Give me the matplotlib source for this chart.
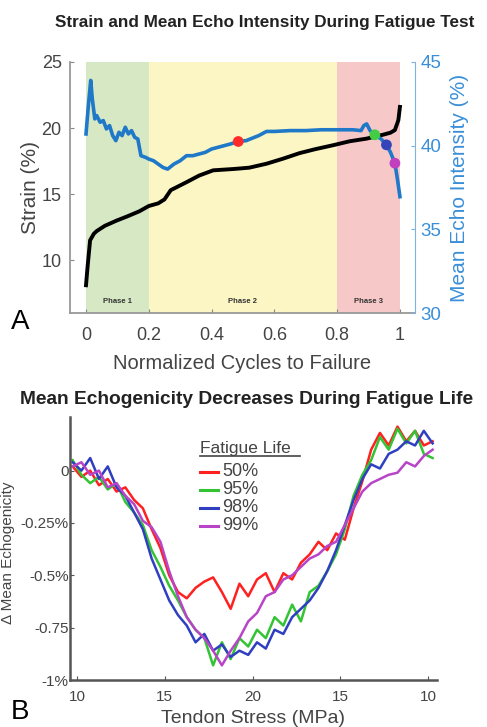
import matplotlib
matplotlib.use("Agg")
import matplotlib.pyplot as plt
from matplotlib.lines import Line2D
import numpy as np

plt.rcParams['font.family'] = ['Liberation Sans', 'DejaVu Sans']

# ---------------- Panel A data ----------------
strain_x = [0, 0.005, 0.013, 0.025, 0.034, 0.06, 0.098, 0.13, 0.17, 0.2, 0.23, 0.25,
            0.27, 0.32, 0.36, 0.405, 0.47, 0.52, 0.575, 0.63, 0.68, 0.73, 0.787,
            0.84, 0.894, 0.947, 0.97, 0.984, 0.995, 1.0]
strain = [8.1, 9.5, 11.5, 12.0, 12.2, 12.6, 13.0, 13.3, 13.7, 14.1, 14.3, 14.6,
          15.3, 15.9, 16.4, 16.8, 16.9, 17.0, 17.3, 17.7, 18.1, 18.4, 18.7,
          19.0, 19.2, 19.5, 19.65, 19.85, 20.6, 21.6]

echo_x = [0, 0.008, 0.015, 0.02, 0.028, 0.034, 0.045, 0.055, 0.065, 0.075, 0.085,
          0.095, 0.105, 0.115, 0.125, 0.135, 0.145, 0.155, 0.165, 0.175, 0.19, 0.2,
          0.215, 0.23, 0.245, 0.26, 0.28, 0.3, 0.32, 0.34, 0.36, 0.38, 0.4, 0.42,
          0.44, 0.46, 0.485, 0.51, 0.53, 0.55, 0.575, 0.6, 0.65, 0.7, 0.75, 0.8,
          0.85, 0.876, 0.885, 0.894, 0.905, 0.92, 0.94, 0.957, 0.97, 0.984, 0.992, 1.0]
echo = [40.7, 42.5, 43.9, 42.8, 41.6, 41.8, 41.4, 41.5, 41.0, 41.2, 40.6,
        40.3, 40.8, 40.6, 41.1, 40.7, 40.9, 40.5, 40.4, 39.4, 39.3, 39.2,
        39.1, 38.9, 38.7, 38.6, 38.9, 39.1, 39.4, 39.4, 39.5, 39.6, 39.8, 39.9,
        40.0, 40.1, 40.25, 40.3, 40.45, 40.6, 40.85, 40.85, 40.9, 40.9, 40.95, 40.95,
        40.95, 40.9, 41.2, 41.3, 40.9, 40.65, 40.4, 40.05, 39.6, 38.95, 38.0, 36.95]

dot_x = [0.485, 0.92, 0.957, 0.984]
dot_echo = [40.25, 40.65, 40.05, 38.95]
dot_colors = ['#ff2a2a', '#44cc44', '#3344bb', '#c040c0']

phases = ['Phase 1', 'Phase 2', 'Phase 3']
phase_bounds = [(0.0, 0.2), (0.2, 0.8), (0.8, 1.0)]
phase_colors = ['#d6e8c4', '#fbf6c4', '#f6c8c8']

# ---------------- Panel B data ----------------
stress_pos = [-0.05, 0.05, 0.15, 0.25, 0.35, 0.45, 0.55, 0.65, 0.75, 0.85, 0.95,
              1.05, 1.15, 1.25, 1.35, 1.45, 1.55, 1.65, 1.75, 1.85, 1.95, 2.05,
              2.15, 2.25, 2.35, 2.45, 2.55, 2.65, 2.75, 2.85, 2.95, 3.05, 3.15,
              3.25, 3.35, 3.45, 3.55, 3.65, 3.75, 3.85, 3.95, 4.05]
stress_ticks = [0, 1, 2, 3, 4]
stress_ticklabels = ['10', '15', '20', '15', '10']

life_labels = ['50%', '95%', '98%', '99%']
life_colors = ['#ff2020', '#33c433', '#2f3fc0', '#b845c8']
echo50 = [0.02, -0.03, 0.00, -0.07, -0.04, -0.10, -0.08, -0.14, -0.18, -0.28, -0.37,
          -0.50, -0.58, -0.61, -0.56, -0.53, -0.51, -0.58, -0.66, -0.54, -0.60, -0.52,
          -0.49, -0.58, -0.49, -0.52, -0.44, -0.40, -0.34, -0.38, -0.30, -0.33, -0.18,
          -0.05, 0.10, 0.18, 0.12, 0.21, 0.14, 0.19, 0.12, 0.14]
echo95 = [0.05, -0.02, -0.06, -0.03, -0.09, -0.06, -0.15, -0.20, -0.26, -0.38, -0.46,
          -0.55, -0.62, -0.70, -0.76, -0.80, -0.93, -0.82, -0.90, -0.80, -0.84, -0.76,
          -0.80, -0.70, -0.74, -0.64, -0.72, -0.58, -0.55, -0.48, -0.40, -0.28, -0.12,
          -0.02, 0.05, 0.16, 0.10, 0.20, 0.13, 0.19, 0.08, 0.06]
echo98 = [0.04, 0.00, 0.06, -0.04, 0.02, -0.08, -0.12, -0.20, -0.28, -0.42, -0.52,
          -0.62, -0.69, -0.74, -0.82, -0.78, -0.86, -0.83, -0.89, -0.86, -0.88, -0.82,
          -0.85, -0.76, -0.78, -0.70, -0.66, -0.62, -0.56, -0.48, -0.38, -0.26, -0.14,
          -0.04, 0.03, 0.01, 0.08, 0.10, 0.14, 0.12, 0.19, 0.13]
echo99 = [0.02, 0.04, -0.02, 0.00, -0.08, -0.06, -0.12, -0.16, -0.24, -0.27, -0.34,
          -0.48, -0.60, -0.70, -0.76, -0.80, -0.86, -0.93, -0.86, -0.80, -0.72, -0.68,
          -0.60, -0.58, -0.52, -0.50, -0.46, -0.42, -0.40, -0.36, -0.34, -0.26, -0.18,
          -0.10, -0.06, -0.04, -0.02, -0.01, 0.04, 0.02, 0.07, 0.10]
b_series = [echo50, echo95, echo98, echo99]

b_yticks = [0, -0.25, -0.5, -0.75, -1.0]
b_yticklabels = ['0', '-0.25%', '-0.5%', '-0.75', '-1%']

W, H = 487, 727
fig = plt.figure(figsize=(W / 100, H / 100), dpi=100)

def fx(px):
    return px / W

def fy(py):
    return 1 - py / H

GRAY = '#444444'
BLUE_T = '#3a8fd8'

# ---------------- Panel A ----------------
axA = fig.add_axes([fx(70), fy(313), fx(415) - fx(70), fy(62) - fy(313)])
axA.set_xlim(-0.051, 1.048)
axA.set_ylim(6, 25)
for (a, b), c in zip(phase_bounds, phase_colors):
    axA.axvspan(a, b, color=c, zorder=0, lw=0)
for (a, b), name in zip(phase_bounds, phases):
    axA.text((a + b) / 2, 6.9, name, ha='center', va='center', fontsize=5.5,
             fontweight='bold', color='#333333')
axA.plot(strain_x, strain, color='black', lw=2.8, zorder=3)
axA.set_yticks([10, 15, 20, 25])
axA.set_xticks([0, 0.2, 0.4, 0.6, 0.8, 1])
axA.set_xticklabels(['0', '0.2', '0.4', '0.6', '0.8', '1'])
axA.tick_params(direction='in', length=3, colors='#888888', labelcolor=GRAY,
                labelsize=13)
axA.tick_params(axis='x', pad=10)
axA.tick_params(axis='y', pad=6)
for s in ['top', 'right']:
    axA.spines[s].set_visible(False)
axA.spines['left'].set_color('#999999')
axA.spines['bottom'].set_color('#999999')
axA.spines['left'].set_linewidth(1.3)
axA.spines['bottom'].set_linewidth(1.3)
axA.set_ylabel('Strain (%)', fontsize=15, color=GRAY, labelpad=1)
axA.set_xlabel('Normalized Cycles to Failure', fontsize=14.5, color=GRAY, labelpad=7)

axE = axA.twinx()
axE.set_ylim(30, 45)
axE.set_yticks([30, 35, 40, 45])
axE.plot(echo_x, echo, color='#1f78c8', lw=2.6, zorder=3)
axE.scatter(dot_x, dot_echo, s=60, c=dot_colors, zorder=5, edgecolors='none')
for s in ['top', 'left', 'bottom']:
    axE.spines[s].set_visible(False)
axE.spines['right'].set_color('#7fb3e0')
axE.tick_params(direction='in', length=3, colors='#7fb3e0', labelcolor=BLUE_T,
                labelsize=13.5, pad=4)
axE.set_ylabel('Mean Echo Intensity (%)', fontsize=15, color=BLUE_T, labelpad=6)

fig.text(fx(265), fy(22), 'Strain and Mean Echo Intensity During Fatigue Test',
         ha='center', va='center', fontsize=12.3, fontweight='bold', color='#222222')
fig.text(fx(20), fy(322), 'A', ha='center', va='center', fontsize=20)

# ---------------- Panel B ----------------
axB = fig.add_axes([fx(70), fy(680), fx(437) - fx(70), fy(417) - fy(680)])
axB.set_xlim(-0.08, 4.1)
axB.set_ylim(-1.0, 0.256)
for ys, c, lab in zip(b_series, life_colors, life_labels):
    axB.plot(stress_pos, ys, color=c, lw=1.8, label=lab)
axB.set_xticks(stress_ticks)
axB.set_xticklabels(stress_ticklabels)
axB.set_yticks(b_yticks)
axB.set_yticklabels(b_yticklabels)
axB.tick_params(direction='in', length=3, colors='#555555', labelcolor=GRAY)
axB.tick_params(axis='x', labelsize=11, pad=7)
axB.tick_params(axis='y', labelsize=11, pad=1)
for s in ['top', 'right']:
    axB.spines[s].set_visible(False)
for s in ['left', 'bottom']:
    axB.spines[s].set_color('#555555')
    axB.spines[s].set_linewidth(1.8)

# manual legend (title underlined)
fig.text(fx(200), fy(448), 'Fatigue Life', ha='left', va='center', fontsize=12.5,
         color=GRAY)
fig.add_artist(Line2D([fx(200), fx(300)], [fy(456), fy(456)], color=GRAY, lw=1.2))
leg_y = [472, 490, 508, 526]
for lab, c, yy in zip(life_labels, life_colors, leg_y):
    fig.add_artist(Line2D([fx(200), fx(218)], [fy(yy), fy(yy)], color=c, lw=2.2))
    fig.text(fx(222), fy(yy), lab, ha='left', va='center', fontsize=13, color=GRAY)

fig.text(fx(8), fy(553), '\u0394 Mean Echogenicity', rotation=90, ha='center',
         va='center', fontsize=11, color=GRAY)
fig.text(fx(20), fy(400), 'Mean Echogenicity Decreases During Fatigue Life',
         ha='left', va='center', fontsize=13.8, fontweight='bold', color='#222222')
fig.text(fx(253), fy(727), 'Tendon Stress (MPa)', ha='center', va='bottom',
         fontsize=14, color=GRAY)
fig.text(fx(20), fy(712), 'B', ha='center', va='center', fontsize=20)

fig.savefig('out.png', dpi=100)
